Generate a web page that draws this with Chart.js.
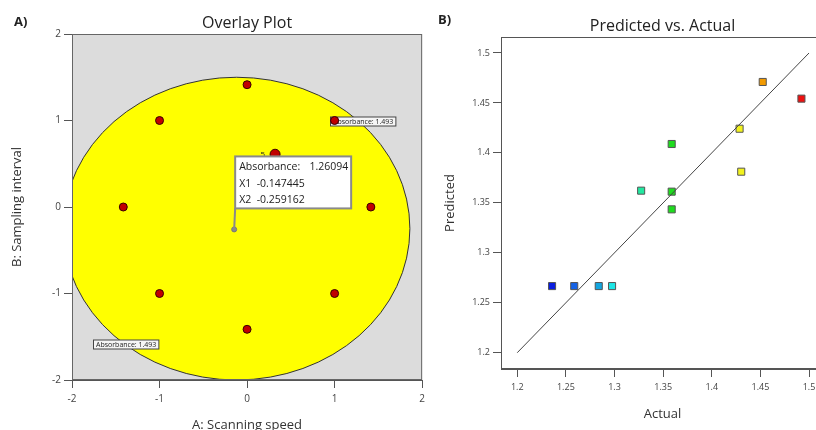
<!DOCTYPE html>
<html>
<head>
<meta charset="utf-8">
<script src="https://cdn.jsdelivr.net/npm/chart.js@4"></script>
<style>
  html, body { margin: 0; padding: 0; background: #fff; overflow: hidden; width: 816px; height: 430px; }
  #left { position: absolute; left: 0; top: 0; }
  #right { position: absolute; left: 430px; top: 0; }
</style>
</head>
<body>
<canvas id="left" width="430" height="430"></canvas>
<canvas id="right" width="400" height="430"></canvas>
<script>
// 左图：设计点 (A, B)
const designA = [0, -1, 1, -1.414, 1.414, -1, 1, 0];
const designB = [1.414, 1, 1, 0, 0, -1, -1, -1.414];
// 中心点（重复次数）
const centerA = [0.32];
const centerB = [0.61];
const centerReps = ['5'];
// 旗标点
const flagA = [-0.147445];
const flagB = [-0.259162];
const flagLines = ['Absorbance:', 'X1  -0.147445', 'X2  -0.259162'];
const flagValue = '1.26094';
// 可行区域（椭圆）中心与半径
const regionCenter = [-0.12, -0.25];
const regionRadius = [1.98, 1.75];
// 等高线标签位置
const contourLabelA = [0.95, -1.76];
const contourLabelB = [1.0, -1.58];
const contourText = 'Absorbance: 1.493';
const overlayTicks = [-2, -1, 0, 1, 2];

// 右图：预测值 vs 实际值
const actual = [1.2358, 1.2586, 1.2838, 1.2975, 1.3274, 1.3588, 1.3588, 1.3588, 1.4286, 1.4303, 1.4524, 1.4922];
const predicted = [1.2667, 1.2667, 1.2667, 1.2667, 1.3622, 1.4089, 1.3612, 1.3435, 1.4242, 1.3812, 1.4710, 1.4543];
const pointColors = ['#0a1ee0', '#1462e6', '#14a6e0', '#1ee6e6', '#22e8a0', '#1edc1e', '#1edc1e', '#1edc1e',
  '#f2f21e', '#f2f21e', '#f29a00', '#ee1010'];
const fitLine = [1.2, 1.5];
const pvaTicks = [1.2, 1.25, 1.3, 1.35, 1.4, 1.45, 1.5];

const FONT = "'Open Sans', 'Noto Sans', sans-serif";

// 坐标轴通用样式
function axis(ticks, fit, title, titlePad, tickSize, tickPad) {
  return {
    type: 'linear',
    afterBuildTicks: s => { s.ticks = ticks.map(v => ({ value: v })); },
    afterFit: fit,
    ticks: { font: { family: FONT, size: tickSize }, color: '#444', padding: tickPad, autoSkip: false,
      callback: v => String(v) },
    grid: { drawOnChartArea: false, tickLength: 8, color: '#555' },
    border: { color: '#555' },
    title: { display: true, text: title, font: { family: FONT, size: 13 }, color: '#333', padding: titlePad }
  };
}

// 左图插件：背景、椭圆区域、标签、旗标、标题
const overlayPlugin = {
  id: 'overlay',
  beforeDatasetsDraw(chart) {
    const { ctx, chartArea: a, scales: { x, y } } = chart;
    ctx.save();
    ctx.fillStyle = '#dcdcdc';
    ctx.fillRect(a.left, a.top, a.width, a.height);
    ctx.beginPath();
    ctx.rect(a.left, a.top, a.width, a.height);
    ctx.clip();
    const cx = x.getPixelForValue(regionCenter[0]);
    const cy = y.getPixelForValue(regionCenter[1]);
    const rx = x.getPixelForValue(regionCenter[0] + regionRadius[0]) - cx;
    const ry = cy - y.getPixelForValue(regionCenter[1] + regionRadius[1]);
    ctx.beginPath();
    ctx.ellipse(cx, cy, rx, ry, 0, 0, Math.PI * 2);
    ctx.fillStyle = '#ffff00';
    ctx.fill();
    ctx.strokeStyle = '#333';
    ctx.lineWidth = 1;
    ctx.stroke();

    // 等高线标签
    ctx.font = '7px ' + FONT;
    ctx.textBaseline = 'middle';
    contourLabelA.forEach((v, i) => {
      const px = Math.round(x.getPixelForValue(v)) + 0.5;
      const py = Math.round(y.getPixelForValue(contourLabelB[i])) + 0.5;
      const w = ctx.measureText(contourText).width + 5;
      ctx.fillStyle = '#f6f6f6';
      ctx.fillRect(px, py - 4.5, w, 9);
      ctx.strokeStyle = '#444';
      ctx.strokeRect(px, py - 4.5, w, 9);
      ctx.fillStyle = '#222';
      ctx.fillText(contourText, px + 2.5, py + 0.5);
    });
    ctx.restore();
  },
  afterDatasetsDraw(chart) {
    const { ctx, chartArea: a, scales: { x, y } } = chart;
    ctx.save();
    // 中心点重复次数
    ctx.font = '8px ' + FONT;
    ctx.fillStyle = '#222';
    ctx.textAlign = 'right';
    ctx.textBaseline = 'middle';
    centerA.forEach((v, i) => {
      ctx.fillText(centerReps[i], x.getPixelForValue(v) - 10, y.getPixelForValue(centerB[i]));
    });

    // 旗标
    const fx = x.getPixelForValue(flagA[0]);
    const fy = y.getPixelForValue(flagB[0]);
    const bx = fx + 1, by = fy - 73, bw = 116, bh = 52;
    ctx.strokeStyle = '#8a8a8a';
    ctx.lineWidth = 2;
    ctx.beginPath();
    ctx.moveTo(bx, by + bh);
    ctx.lineTo(fx, fy);
    ctx.stroke();
    ctx.fillStyle = '#fff';
    ctx.fillRect(bx, by, bw, bh);
    ctx.strokeRect(bx, by, bw, bh);
    ctx.font = '10.5px ' + FONT;
    ctx.fillStyle = '#222';
    ctx.textAlign = 'left';
    ctx.textBaseline = 'alphabetic';
    flagLines.forEach((t, i) => ctx.fillText(t, bx + 4, by + 14 + i * 16.5));
    ctx.textAlign = 'right';
    ctx.fillText(flagValue, bx + bw - 3, by + 14);

    // 边框
    ctx.strokeStyle = '#666';
    ctx.lineWidth = 1;
    ctx.strokeRect(a.left + 0.5, a.top + 0.5, a.width - 1, a.height - 1);

    // 标题
    ctx.textAlign = 'center';
    ctx.font = '16px ' + FONT;
    ctx.fillStyle = '#222';
    ctx.fillText('Overlay Plot', (a.left + a.right) / 2, 28);
    ctx.textAlign = 'left';
    ctx.font = 'bold 13px ' + FONT;
    ctx.fillText('A)', 14, 26);
    ctx.restore();
  }
};

new Chart(document.getElementById('left'), {
  type: 'scatter',
  data: {
    datasets: [
      {
        data: flagA.map((v, i) => ({ x: v, y: flagB[i] })),
        pointRadius: 2.5, backgroundColor: '#8a8a8a', borderColor: '#777', borderWidth: 1
      },
      {
        data: centerA.map((v, i) => ({ x: v, y: centerB[i] })),
        pointRadius: 5, backgroundColor: '#c00000', borderColor: '#3a0000', borderWidth: 1
      },
      {
        data: designA.map((v, i) => ({ x: v, y: designB[i] })),
        pointRadius: 4, backgroundColor: '#c00000', borderColor: '#3a0000', borderWidth: 1
      }
    ]
  },
  options: {
    responsive: false,
    animation: false,
    layout: { padding: { top: 34, right: 5, left: 0, bottom: 0 } },
    plugins: { legend: { display: false }, tooltip: { enabled: false } },
    scales: {
      x: Object.assign(axis(overlayTicks, s => { s.height = 50; }, 'A: Scanning speed', { top: 0, bottom: -3 }, 10, 5), { min: -2, max: 2 }),
      y: Object.assign(axis(overlayTicks, s => { s.width = 72; }, 'B: Sampling interval', { top: 9, bottom: 0 }, 10, 3), { min: -2, max: 2 })
    }
  },
  plugins: [overlayPlugin]
});

// 右图插件：边框与标题
const pvaPlugin = {
  id: 'pva',
  afterDatasetsDraw(chart) {
    const { ctx, chartArea: a } = chart;
    ctx.save();
    ctx.strokeStyle = '#555';
    ctx.lineWidth = 1;
    ctx.strokeRect(a.left + 0.5, a.top + 0.5, a.width - 1, a.height - 1);
    ctx.textAlign = 'center';
    ctx.font = '16px ' + FONT;
    ctx.fillStyle = '#222';
    ctx.fillText('Predicted vs. Actual', (a.left + a.right) / 2, 31);
    ctx.textAlign = 'left';
    ctx.font = 'bold 13px ' + FONT;
    ctx.fillText('B)', 8, 24);
    ctx.restore();
  }
};

new Chart(document.getElementById('right'), {
  type: 'scatter',
  data: {
    datasets: [
      {
        data: fitLine.map(v => ({ x: v, y: v })),
        showLine: true, borderColor: '#444', borderWidth: 1, pointRadius: 0
      },
      {
        data: actual.map((v, i) => ({ x: v, y: predicted[i] })),
        pointStyle: 'rect', pointRadius: 5,
        backgroundColor: pointColors, borderColor: '#555', borderWidth: 1
      }
    ]
  },
  options: {
    responsive: false,
    animation: false,
    layout: { padding: { top: 37, right: 4, left: 0, bottom: 0 } },
    plugins: { legend: { display: false }, tooltip: { enabled: false } },
    scales: {
      x: Object.assign(axis(pvaTicks, s => { s.height = 61; }, 'Actual', { top: 0, bottom: 8 }, 9, 5), { min: 1.1833, max: 1.5154 }),
      y: Object.assign(axis(pvaTicks, s => { s.width = 71; }, 'Predicted', { top: 12, bottom: 0 }, 9, 3), { min: 1.1837, max: 1.516 })
    }
  },
  plugins: [pvaPlugin]
});
</script>
</body>
</html>
